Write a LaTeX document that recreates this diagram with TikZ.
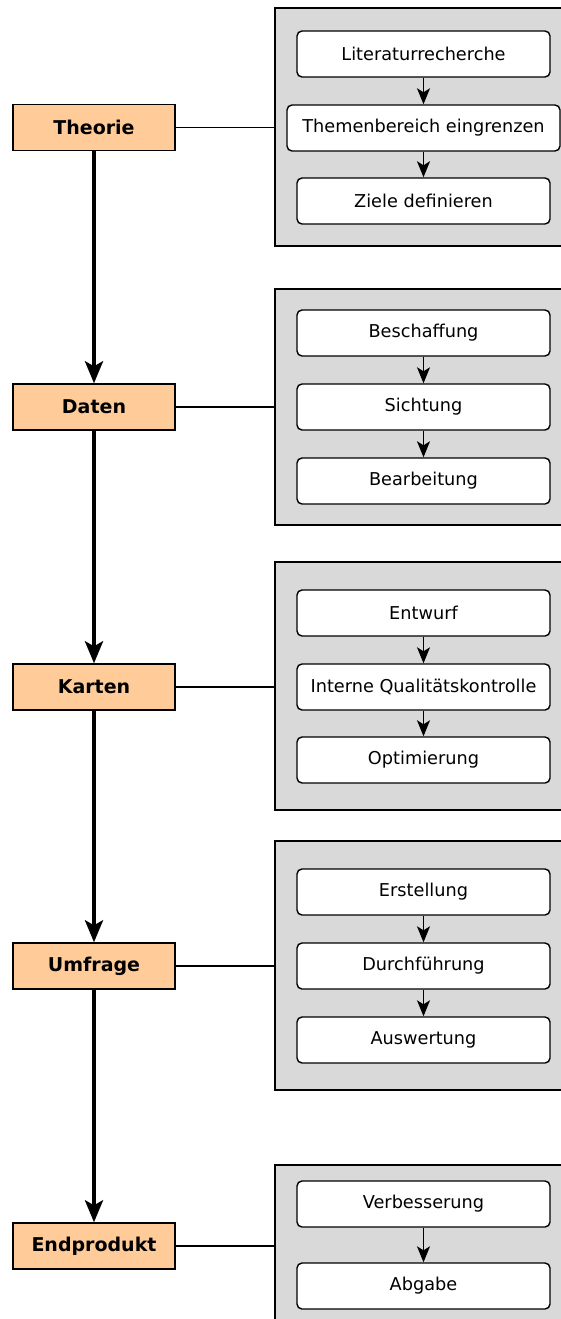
\documentclass[tikz,border=0pt]{standalone}
\usepackage{fontspec}
\setmainfont{DejaVu Sans}
\usetikzlibrary{arrows.meta}
\definecolor{phasefill}{HTML}{FFCC99}
\definecolor{panelfill}{HTML}{D9D9D9}
\tikzset{
  phase/.style={draw=black, line width=1.4pt, fill=phasefill, minimum width=162pt, minimum height=46pt, inner sep=0pt, font=\fontsize{19}{22}\selectfont\bfseries},
  panel/.style={draw=black, line width=1.4pt, fill=panelfill, inner sep=0pt},
  task/.style={draw=black, line width=1.4pt, fill=white, rounded corners=5pt, minimum width=253pt, minimum height=46pt, inner sep=0pt, font=\fontsize{17.7}{21}\selectfont},
  bigarrow/.style={line width=4pt, -{Stealth[length=22pt,width=18pt,inset=5pt]}},
  smallarrow/.style={line width=1.4pt, -{Stealth[length=16pt,width=13pt,inset=4pt]}},
  link/.style={line width=1.4pt},
}
\begin{document}
\begin{tikzpicture}[x=1pt,y=-1pt]
\useasboundingbox (0,0) rectangle (561,1319);
% phases
\node[phase] (theorie) at (94,127.5) {Theorie};
\node[phase] (daten) at (94,407) {Daten};
\node[phase] (karten) at (94,687) {Karten};
\node[phase] (umfrage) at (94,966) {Umfrage};
\node[phase] (endprodukt) at (94,1246) {Endprodukt};
% panels
\node[panel, minimum width=325pt, minimum height=238pt] (p1) at (437.5,127) {};
\node[panel, minimum width=325pt, minimum height=236pt] (p2) at (437.5,407) {};
\node[panel, minimum width=325pt, minimum height=248pt] (p3) at (437.5,686) {};
\node[panel, minimum width=325pt, minimum height=249pt] (p4) at (437.5,965.5) {};
\node[panel, minimum width=325pt, minimum height=200pt] (p5) at (437.5,1265) {};
% tasks
\node[task] (t11) at (423.5,54) {Literaturrecherche};
\node[task, minimum width=273pt] (t12) at (423.5,128) {Themenbereich eingrenzen};
\node[task] (t13) at (423.5,201) {Ziele definieren};
\node[task] (t21) at (423.5,333) {Beschaffung};
\node[task] (t22) at (423.5,407) {Sichtung};
\node[task] (t23) at (423.5,481) {Bearbeitung};
\node[task] (t31) at (423.5,613) {Entwurf};
\node[task] (t32) at (423.5,687) {Interne Qualitätskontrolle};
\node[task] (t33) at (423.5,760) {Optimierung};
\node[task] (t41) at (423.5,892) {Erstellung};
\node[task] (t42) at (423.5,966) {Durchführung};
\node[task] (t43) at (423.5,1040) {Auswertung};
\node[task] (t51) at (423.5,1204) {Verbesserung};
\node[task] (t52) at (423.5,1286) {Abgabe};
% main flow
\draw[bigarrow] (theorie.south) -- (daten.north);
\draw[bigarrow] (daten.south) -- (karten.north);
\draw[bigarrow] (karten.south) -- (umfrage.north);
\draw[bigarrow] (umfrage.south) -- (endprodukt.north);
% links
\draw[link] (theorie.east) -- (theorie.east -| p1.west);
\draw[link] (daten.east) -- (daten.east -| p2.west);
\draw[link] (karten.east) -- (karten.east -| p3.west);
\draw[link] (umfrage.east) -- (umfrage.east -| p4.west);
\draw[link] (endprodukt.east) -- (endprodukt.east -| p5.west);
% inner arrows
\draw[smallarrow] (t11.south) -- (t12.north);
\draw[smallarrow] (t12.south) -- (t13.north);
\draw[smallarrow] (t21.south) -- (t22.north);
\draw[smallarrow] (t22.south) -- (t23.north);
\draw[smallarrow] (t31.south) -- (t32.north);
\draw[smallarrow] (t32.south) -- (t33.north);
\draw[smallarrow] (t41.south) -- (t42.north);
\draw[smallarrow] (t42.south) -- (t43.north);
\draw[smallarrow] (t51.south) -- (t52.north);
\end{tikzpicture}
\end{document}
